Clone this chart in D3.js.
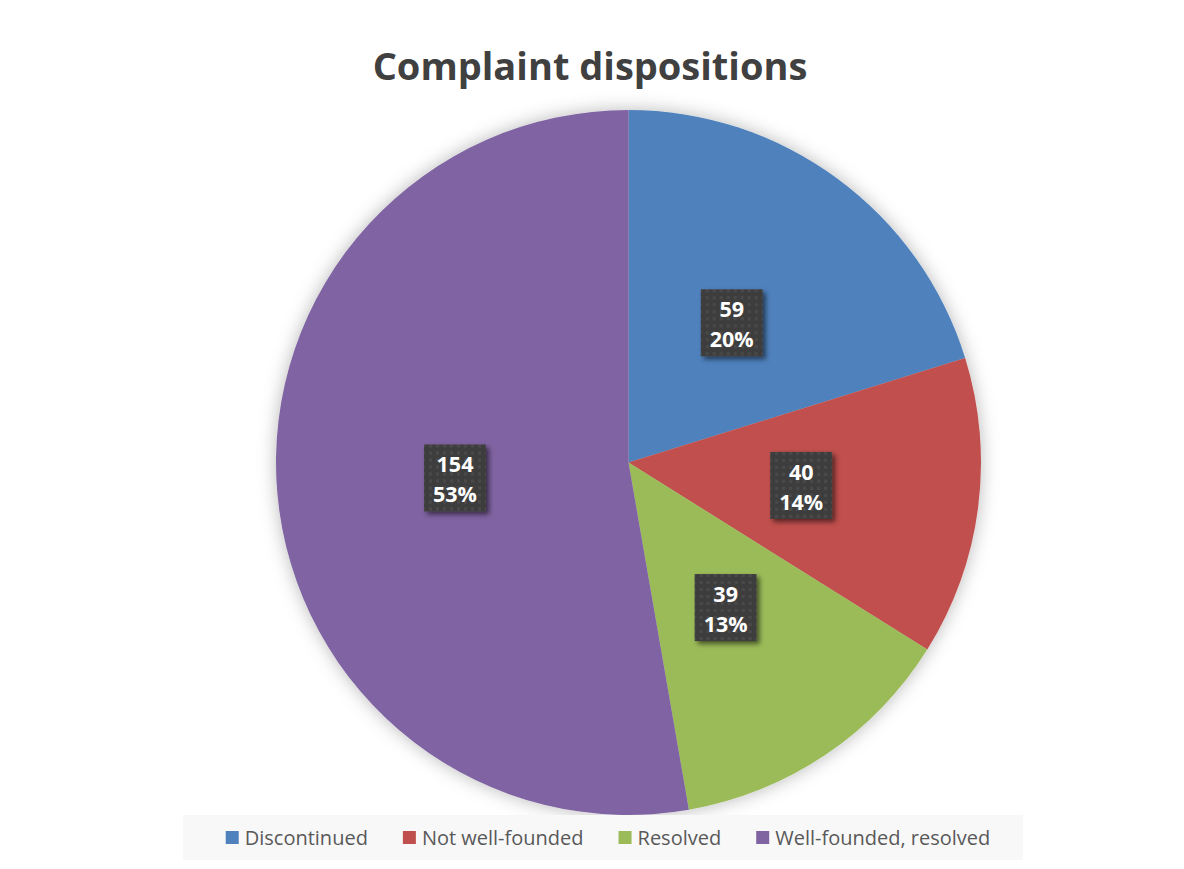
<!DOCTYPE html>
<html>
<head>
<meta charset="utf-8">
<script src="https://cdn.jsdelivr.net/npm/d3@7"></script>
<style>
  body { margin: 0; background: #fff; }
  svg { display: block; }
</style>
</head>
<body>
<div></div>
<script>
// datos del grafico
var categories = ['Discontinued', 'Not well-founded', 'Resolved', 'Well-founded, resolved']
var counts = [59, 40, 39, 154]
var colors = ['#4f81bd', '#c0504d', '#9bbb59', '#8064a2']

var w = 1184
var h = 869
var cx = 628.5
var cy = 462.5
var radius = 352.5

var svg = d3.select('div')
    .append('svg')
    .attr('width', w)
    .attr('height', h)

var defs = svg.append('defs')

// sombra suave alrededor de la tarta
var glow = defs.append('filter').attr('id', 'glow')
    .attr('x', '-20%').attr('y', '-20%').attr('width', '140%').attr('height', '140%')
glow.append('feGaussianBlur').attr('in', 'SourceAlpha').attr('stdDeviation', 9).attr('result', 'b')
glow.append('feFlood').attr('flood-color', '#000').attr('flood-opacity', 0.28)
glow.append('feComposite').attr('in2', 'b').attr('operator', 'in').attr('result', 's')
var gm = glow.append('feMerge')
gm.append('feMergeNode').attr('in', 's')
gm.append('feMergeNode').attr('in', 'SourceGraphic')

// sombra de las etiquetas
var lsh = defs.append('filter').attr('id', 'lsh')
    .attr('x', '-30%').attr('y', '-30%').attr('width', '160%').attr('height', '160%')
lsh.append('feGaussianBlur').attr('in', 'SourceAlpha').attr('stdDeviation', 2.5).attr('result', 'b')
lsh.append('feOffset').attr('dx', 3).attr('dy', 3).attr('result', 'o')
lsh.append('feFlood').attr('flood-color', '#000').attr('flood-opacity', 0.55)
lsh.append('feComposite').attr('in2', 'o').attr('operator', 'in').attr('result', 's')
var lm = lsh.append('feMerge')
lm.append('feMergeNode').attr('in', 's')
lm.append('feMergeNode').attr('in', 'SourceGraphic')

// patron de puntos para la caja de etiquetas
var pat = defs.append('pattern').attr('id', 'dots')
    .attr('width', 7).attr('height', 7).attr('patternUnits', 'userSpaceOnUse')
pat.append('rect').attr('width', 7).attr('height', 7).attr('fill', '#3e3e3e')
pat.append('rect').attr('x', 2).attr('y', 2).attr('width', 3).attr('height', 3).attr('fill', '#4a4a4a')

// titulo
svg.append('text')
    .attr('x', 590)
    .attr('y', 80)
    .attr('text-anchor', 'middle')
    .attr('font-family', 'Open Sans, sans-serif')
    .attr('font-weight', 'bold')
    .attr('font-size', '38px')
    .attr('fill', '#404040')
    .text('Complaint dispositions')

var total = d3.sum(counts)
var data = categories.map((c, i) => ({name: c, value: counts[i], color: colors[i]}))

var pie = d3.pie().sort(null).value((d) => d.value)
var arc = d3.arc().innerRadius(0).outerRadius(radius)
var labelArc = d3.arc().innerRadius(radius * 0.494).outerRadius(radius * 0.494)

var g = svg.append('g').attr('transform', 'translate(' + cx + ',' + cy + ')')

g.append('g').attr('filter', 'url(#glow)')
    .selectAll('path')
    .data(pie(data))
    .enter()
    .append('path')
    .attr('d', arc)
    .attr('fill', (d) => d.data.color)

// etiquetas con valor y porcentaje
var labels = g.selectAll('.lbl')
    .data(pie(data))
    .enter()
    .append('g')
    .attr('class', 'lbl')
    .attr('transform', (d) => 'translate(' + labelArc.centroid(d) + ')')

labels.append('rect')
    .attr('x', -31).attr('y', -33)
    .attr('width', 62).attr('height', 67)
    .attr('fill', 'url(#dots)')
    .attr('filter', 'url(#lsh)')

labels.append('text')
    .attr('text-anchor', 'middle')
    .attr('y', -5)
    .attr('font-family', 'Open Sans, sans-serif')
    .attr('font-weight', 'bold')
    .attr('font-size', '21.5px')
    .attr('fill', '#fff')
    .text((d) => d.data.value)

labels.append('text')
    .attr('text-anchor', 'middle')
    .attr('y', 25)
    .attr('font-family', 'Open Sans, sans-serif')
    .attr('font-weight', 'bold')
    .attr('font-size', '21.5px')
    .attr('fill', '#fff')
    .text((d) => Math.round(d.data.value / total * 100) + '%')

// leyenda
svg.append('rect')
    .attr('x', 183).attr('y', 815)
    .attr('width', 840).attr('height', 45)
    .attr('fill', '#f8f8f8')

var legend = svg.append('g')
var xpos = 0
data.forEach((d) => {
    var item = legend.append('g').attr('transform', 'translate(' + xpos + ',0)')
    item.append('rect')
        .attr('x', 0).attr('y', 831)
        .attr('width', 13).attr('height', 13)
        .attr('fill', d.color)
    var t = item.append('text')
        .attr('x', 19).attr('y', 845)
        .attr('font-family', 'Open Sans, sans-serif')
        .attr('font-size', '20px')
        .attr('fill', '#595959')
        .text(d.name)
    xpos += 19 + t.node().getComputedTextLength() + 35
})
var legW = xpos - 35
legend.attr('transform', 'translate(' + (608 - legW / 2) + ',0)')
</script>
</body>
</html>
